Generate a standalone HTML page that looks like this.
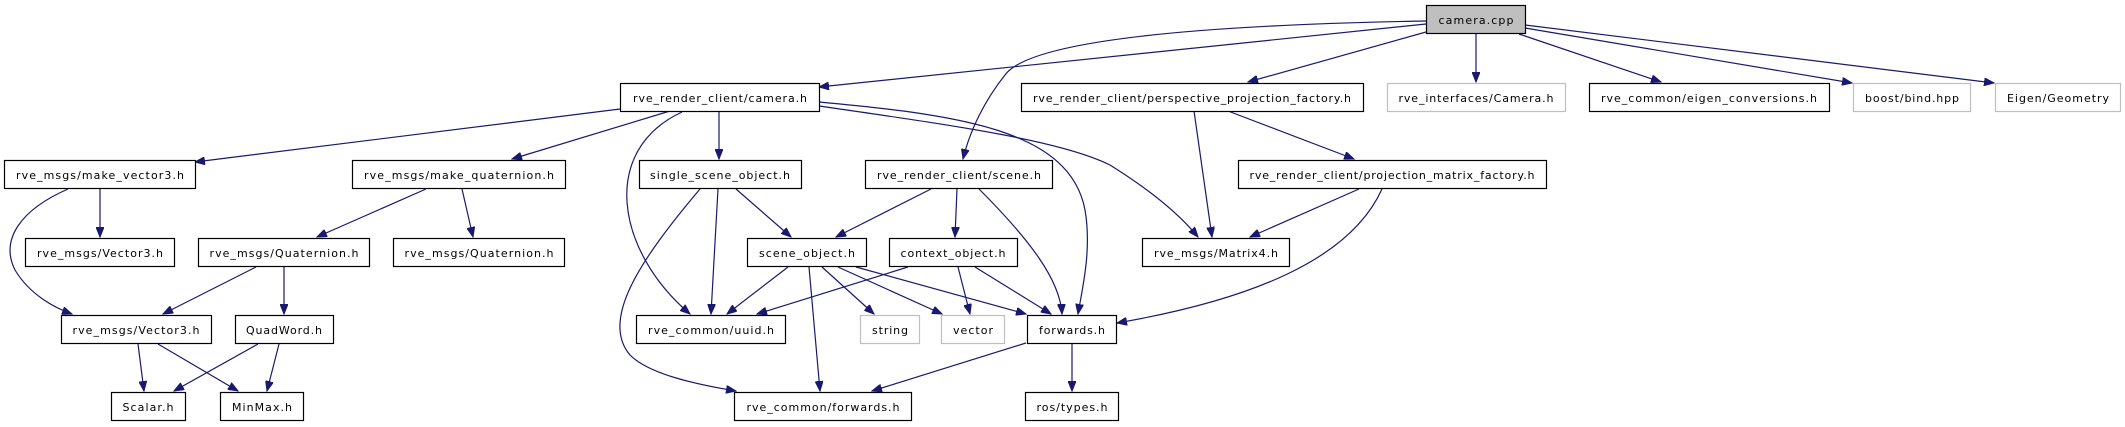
<!DOCTYPE html>
<html><head><meta charset="utf-8"><style>
html,body{margin:0;padding:0;background:#fff;}
svg{display:block;}
text{font-family:"DejaVu Sans","Liberation Sans",sans-serif;font-size:11px;fill:#000;}
</style></head><body>
<svg width="2125" height="427" viewBox="0 0 2125 427" xmlns="http://www.w3.org/2000/svg">
<defs>
<marker id="a" markerWidth="11" markerHeight="8" refX="10" refY="4" orient="auto" markerUnits="userSpaceOnUse">
<path d="M0,0 L10,4 L0,8 Z" fill="#191970" stroke="#191970"/>
</marker>
</defs>
<g fill="none" stroke="#191970" stroke-width="1.2" marker-end="url(#a)">
<path d="M1426,24 L819,87"/>
<path d="M1426,21 C1200,25 1030,40 1005,75 C985,100 970,130 963,159"/>
<path d="M1426,32 L1248,82"/>
<path d="M1476,34 L1476,82"/>
<path d="M1519,34 L1661,82"/>
<path d="M1525,28 L1852,83"/>
<path d="M1525,25 L1994,83"/>
<path d="M620,109 L195,162"/>
<path d="M670,111 L512,159"/>
<path d="M719,111 L719,159"/>
<path d="M682,112 C600,150 615,250 690,314"/>
<path d="M819,102 C960,115 1070,130 1085,210 C1092,250 1082,290 1078,314"/>
<path d="M819,106 C950,125 1060,140 1110,165 C1150,190 1180,215 1198,237"/>
<path d="M100,189 L100,237"/>
<path d="M68,189 C20,210 0,240 15,270 C30,295 55,308 72,314"/>
<path d="M426,189 L317,237"/>
<path d="M462,189 L473,237"/>
<path d="M256,267 L163,314"/>
<path d="M284,267 L284,314"/>
<path d="M138,344 L144,391"/>
<path d="M158,344 L238,391"/>
<path d="M258,344 L174,391"/>
<path d="M279,344 L267,391"/>
<path d="M718,189 L711,314"/>
<path d="M736,189 L791,237"/>
<path d="M700,189 C640,260 600,320 630,355 C650,375 700,385 736,391"/>
<path d="M931,189 L836,237"/>
<path d="M957,189 L955,237"/>
<path d="M979,189 C1030,240 1060,280 1062,314"/>
<path d="M1194,111 L1212,237"/>
<path d="M1228,111 L1354,159"/>
<path d="M1359,189 L1250,237"/>
<path d="M1382,189 C1350,260 1250,300 1117,323"/>
<path d="M788,267 L727,314"/>
<path d="M809,267 L820,391"/>
<path d="M822,267 L874,314"/>
<path d="M838,267 L942,314"/>
<path d="M856,267 L1026,314"/>
<path d="M908,267 L757,314"/>
<path d="M958,267 L970,314"/>
<path d="M975,267 L1051,314"/>
<path d="M1026,343 L872,391"/>
<path d="M1072,344 L1072,391"/>
</g>
<g stroke-width="1.2">
<rect x="1426.5" y="5.5" width="99" height="28" fill="#bfbfbf" stroke="#000"/>
<rect x="620.5" y="83.5" width="199" height="28" fill="#fff" stroke="#000"/>
<rect x="1021.5" y="83.5" width="342" height="28" fill="#fff" stroke="#000"/>
<rect x="1387.5" y="83.5" width="178" height="28" fill="#fff" stroke="#bfbfbf"/>
<rect x="1589.5" y="83.5" width="240" height="28" fill="#fff" stroke="#000"/>
<rect x="1853.5" y="83.5" width="117" height="28" fill="#fff" stroke="#bfbfbf"/>
<rect x="1995.5" y="83.5" width="125" height="28" fill="#fff" stroke="#bfbfbf"/>
<rect x="4.5" y="160.5" width="191" height="28" fill="#fff" stroke="#000"/>
<rect x="352.5" y="160.5" width="213" height="28" fill="#fff" stroke="#000"/>
<rect x="639.5" y="160.5" width="162" height="28" fill="#fff" stroke="#000"/>
<rect x="865.5" y="160.5" width="187" height="28" fill="#fff" stroke="#000"/>
<rect x="1238.5" y="160.5" width="308" height="28" fill="#fff" stroke="#000"/>
<rect x="25.5" y="238.5" width="149" height="28" fill="#fff" stroke="#000"/>
<rect x="198.5" y="238.5" width="171" height="28" fill="#fff" stroke="#000"/>
<rect x="393.5" y="238.5" width="171" height="28" fill="#fff" stroke="#000"/>
<rect x="747.5" y="238.5" width="119" height="28" fill="#fff" stroke="#000"/>
<rect x="889.5" y="238.5" width="128" height="28" fill="#fff" stroke="#000"/>
<rect x="1142.5" y="238.5" width="147" height="28" fill="#fff" stroke="#000"/>
<rect x="61.5" y="315.5" width="150" height="28" fill="#fff" stroke="#000"/>
<rect x="235.5" y="315.5" width="98" height="28" fill="#fff" stroke="#000"/>
<rect x="636.5" y="315.5" width="149" height="28" fill="#fff" stroke="#000"/>
<rect x="860.5" y="315.5" width="59" height="28" fill="#fff" stroke="#bfbfbf"/>
<rect x="941.5" y="315.5" width="63" height="28" fill="#fff" stroke="#bfbfbf"/>
<rect x="1027.5" y="315.5" width="89" height="28" fill="#fff" stroke="#000"/>
<rect x="111.5" y="392.5" width="74" height="28" fill="#fff" stroke="#000"/>
<rect x="220.5" y="392.5" width="83" height="28" fill="#fff" stroke="#000"/>
<rect x="734.5" y="392.5" width="177" height="28" fill="#fff" stroke="#000"/>
<rect x="1025.5" y="392.5" width="93" height="28" fill="#fff" stroke="#000"/>
</g>
<g text-anchor="middle" lengthAdjust="spacingAndGlyphs">
<text x="1476" y="24" textLength="75">camera.cpp</text>
<text x="720" y="102" textLength="174">rve_render_client/camera.h</text>
<text x="1192" y="102" textLength="318">rve_render_client/perspective_projection_factory.h</text>
<text x="1476" y="102" textLength="155">rve_interfaces/Camera.h</text>
<text x="1709" y="102" textLength="216">rve_common/eigen_conversions.h</text>
<text x="1912" y="102" textLength="94">boost/bind.hpp</text>
<text x="2058" y="102" textLength="102">Eigen/Geometry</text>
<text x="100" y="179" textLength="168">rve_msgs/make_vector3.h</text>
<text x="459" y="179" textLength="190">rve_msgs/make_quaternion.h</text>
<text x="720" y="179" textLength="140">single_scene_object.h</text>
<text x="959" y="179" textLength="164">rve_render_client/scene.h</text>
<text x="1392" y="179" textLength="285">rve_render_client/projection_matrix_factory.h</text>
<text x="100" y="257" textLength="126">rve_msgs/Vector3.h</text>
<text x="284" y="257" textLength="149">rve_msgs/Quaternion.h</text>
<text x="479" y="257" textLength="149">rve_msgs/Quaternion.h</text>
<text x="807" y="257" textLength="96">scene_object.h</text>
<text x="953" y="257" textLength="105">context_object.h</text>
<text x="1216" y="257" textLength="124">rve_msgs/Matrix4.h</text>
<text x="136" y="334" textLength="127">rve_msgs/Vector3.h</text>
<text x="284" y="334" textLength="76">QuadWord.h</text>
<text x="711" y="334" textLength="126">rve_common/uuid.h</text>
<text x="890" y="334" textLength="36">string</text>
<text x="973" y="334" textLength="40">vector</text>
<text x="1072" y="334" textLength="66">forwards.h</text>
<text x="148" y="411" textLength="51">Scalar.h</text>
<text x="262" y="411" textLength="60">MinMax.h</text>
<text x="823" y="411" textLength="153">rve_common/forwards.h</text>
<text x="1072" y="411" textLength="71">ros/types.h</text>
</g>
</svg>
</body></html>
